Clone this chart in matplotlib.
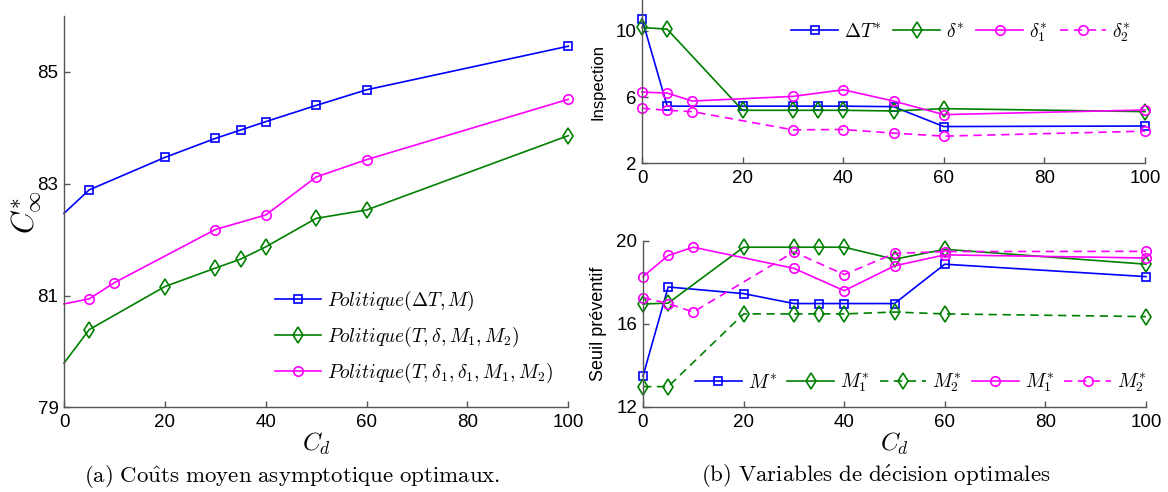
import matplotlib

matplotlib.use("Agg", force=True)

import matplotlib.pyplot as plt

plt.rcParams["font.family"] = ["Liberation Sans", "DejaVu Sans"]
plt.rcParams["mathtext.fontset"] = "cm"
plt.rcParams["lines.scale_dashes"] = False

BLUE = "#0000ff"
GREEN = "#008000"
MAGENTA = "#ff00ff"
SPINE = "#555555"

# (a) couts moyens asymptotiques
cd_full = [0, 5, 20, 30, 35, 40, 50, 60, 100]
cd_mag = [0, 5, 10, 30, 40, 50, 60, 100]
cost_dt_m = [82.47, 82.89, 83.47, 83.81, 83.96, 84.11, 84.40, 84.68, 85.46]
cost_t_delta = [79.79, 80.39, 81.16, 81.49, 81.65, 81.87, 82.38, 82.53, 83.86]
cost_t_delta12 = [80.85, 80.94, 81.23, 82.18, 82.44, 83.12, 83.43, 84.51]

# (b) inspection
insp_dt = [10.72, 5.45, 5.45, 5.45, 5.45, 5.45, 5.42, 4.22, 4.25]
insp_delta = [10.2, 10.1, 5.2, 5.2, 5.2, 5.2, 5.16, 5.3, 5.12]
insp_delta1 = [6.3, 6.24, 5.76, 6.04, 6.44, 5.76, 4.94, 5.22]
insp_delta2 = [5.32, 5.2, 5.12, 4.02, 4.04, 3.82, 3.64, 3.94]

# (b) seuil preventif
seuil_m = [13.48, 17.78, 17.46, 16.98, 16.98, 16.98, 16.98, 18.88, 18.28]
seuil_m1_g = [16.96, 17.0, 19.7, 19.7, 19.7, 19.7, 19.12, 19.6, 18.88]
seuil_m2_g = [12.97, 12.97, 16.48, 16.48, 16.48, 16.48, 16.57, 16.48, 16.35]
seuil_m1_m = [18.28, 19.3, 19.7, 18.68, 17.6, 18.8, 19.33, 19.18]
seuil_m2_m = [17.27, 16.98, 16.57, 19.47, 18.38, 19.4, 19.49, 19.5]

x_ticks = [0, 20, 40, 60, 80, 100]

MARKERS = {
    "s": dict(marker="s", ms=5.8),
    "d": dict(marker="d", ms=8.5),
    "o": dict(marker="o", ms=6.8),
}


def _line(ax, x, y, color, mk, dashed=False, label=None, **kw):
    style = dict(color=color, lw=1.2, mfc="none", mec=color, mew=1.2,
                 clip_on=False, label=label)
    style.update(MARKERS[mk])
    if dashed:
        style["dashes"] = (6, 4)
    style.update(kw)
    return ax.plot(x, y, **style)


def _style_axes(ax):
    for side in ("top", "right"):
        ax.spines[side].set_visible(False)
    for side in ("left", "bottom"):
        ax.spines[side].set_color(SPINE)
        ax.spines[side].set_linewidth(1.0)
    ax.tick_params(direction="in", length=4, width=1.0, color=SPINE,
                   labelsize=13.5, labelcolor="black")
    ax.tick_params(axis="x", pad=5)
    ax.tick_params(axis="y", pad=4)
    ax.set_xlim(0, 100)
    ax.set_xticks(x_ticks)


fig = plt.figure(figsize=(11.68, 4.92), dpi=100)

# --- (a)
ax_a = fig.add_axes([64 / 1168, 1 - 407.3 / 492, 504.3 / 1168, 391.3 / 492])
_line(ax_a, cd_full, cost_dt_m, BLUE, "s", markevery=slice(1, None),
      label=r"$Politique(\Delta T,M)$")
_line(ax_a, cd_full, cost_t_delta, GREEN, "d", markevery=slice(1, None),
      label=r"$Politique(T,\delta,M_1,M_2)$")
_line(ax_a, cd_mag, cost_t_delta12, MAGENTA, "o", markevery=slice(1, None),
      label=r"$Politique(T,\delta_1,\delta_1,M_1,M_2)$")
_style_axes(ax_a)
ax_a.set_ylim(79, 86)
ax_a.set_yticks([79, 81, 83, 85])
ax_a.set_ylabel(r"$C^{*}_{\infty}$", fontsize=22)
ax_a.yaxis.set_label_coords(-0.04, 0.5)
ax_a.set_xlabel(r"$C_d$", fontsize=18)
ax_a.xaxis.set_label_coords(0.5, -0.06)
ax_a.legend(loc="center left", bbox_to_anchor=(0.418, 0.18), frameon=False,
            fontsize=14, borderpad=0, borderaxespad=0, handlelength=2.4,
            handletextpad=0.3, labelspacing=0.6)

# --- (b) haut : inspection
ax_b1 = fig.add_axes([642 / 1168, 1 - 163.3 / 492, 503 / 1168, 163.3 / 492])
_line(ax_b1, cd_full, insp_dt, BLUE, "s", label=r"$\Delta T^{*}$")
_line(ax_b1, cd_full, insp_delta, GREEN, "d", label=r"$\delta^{*}$")
_line(ax_b1, cd_mag, insp_delta1, MAGENTA, "o", label=r"$\delta_1^{*}$")
_line(ax_b1, cd_mag, insp_delta2, MAGENTA, "o", dashed=True,
      label=r"$\delta_2^{*}$")
_style_axes(ax_b1)
ax_b1.set_ylim(2, 11.86)
ax_b1.set_yticks([2, 6, 10])
ax_b1.set_ylabel("Inspection", fontsize=12)
ax_b1.yaxis.set_label_coords(-0.073, 0.5)
ax_b1.legend(loc="center right", bbox_to_anchor=(0.972, 0.80), ncol=4,
             frameon=False, fontsize=14, borderpad=0, borderaxespad=0,
             handlelength=2.4, handletextpad=0.3, columnspacing=0.6)

# --- (b) bas : seuil preventif
ax_b2 = fig.add_axes([643 / 1168, 1 - 406.7 / 492, 503 / 1168, 165.7 / 492])
_line(ax_b2, cd_full, seuil_m, BLUE, "s", label=r"$M^{*}$")
_line(ax_b2, cd_full, seuil_m1_g, GREEN, "d", label=r"$M_1^{*}$")
_line(ax_b2, cd_full, seuil_m2_g, GREEN, "d", dashed=True, label=r"$M_2^{*}$")
_line(ax_b2, cd_mag, seuil_m1_m, MAGENTA, "o", label=r"$M_1^{*}$")
_line(ax_b2, cd_mag, seuil_m2_m, MAGENTA, "o", dashed=True,
      label=r"$M_2^{*}$")
_style_axes(ax_b2)
ax_b2.set_ylim(12, 20)
ax_b2.set_yticks([12, 16, 20])
ax_b2.set_ylabel("Seuil préventif", fontsize=13)
ax_b2.yaxis.set_label_coords(-0.071, 0.5)
ax_b2.set_xlabel(r"$C_d$", fontsize=18)
ax_b2.xaxis.set_label_coords(0.5, -0.145)
ax_b2.legend(loc="center right", bbox_to_anchor=(1.0, 0.143), ncol=5,
             frameon=False, fontsize=14, borderpad=0, borderaxespad=0,
             handlelength=2.4, handletextpad=0.3, columnspacing=0.55)

# legendes des sous-figures
fig.text(0.25, 1 - 476 / 492,
         r"$\mathrm{(a)\ Co\hat{u}ts\ moyen\ asymptotique\ optimaux.}$",
         ha="center", va="center", fontsize=16.5)
fig.text(0.75, 1 - 476 / 492,
         r"$\mathrm{(b)\ Variables\ de\ d\acute{e}cision\ optimales}$",
         ha="center", va="center", fontsize=16.5)

fig.savefig("out.png", dpi=100)
plt.close(fig)
